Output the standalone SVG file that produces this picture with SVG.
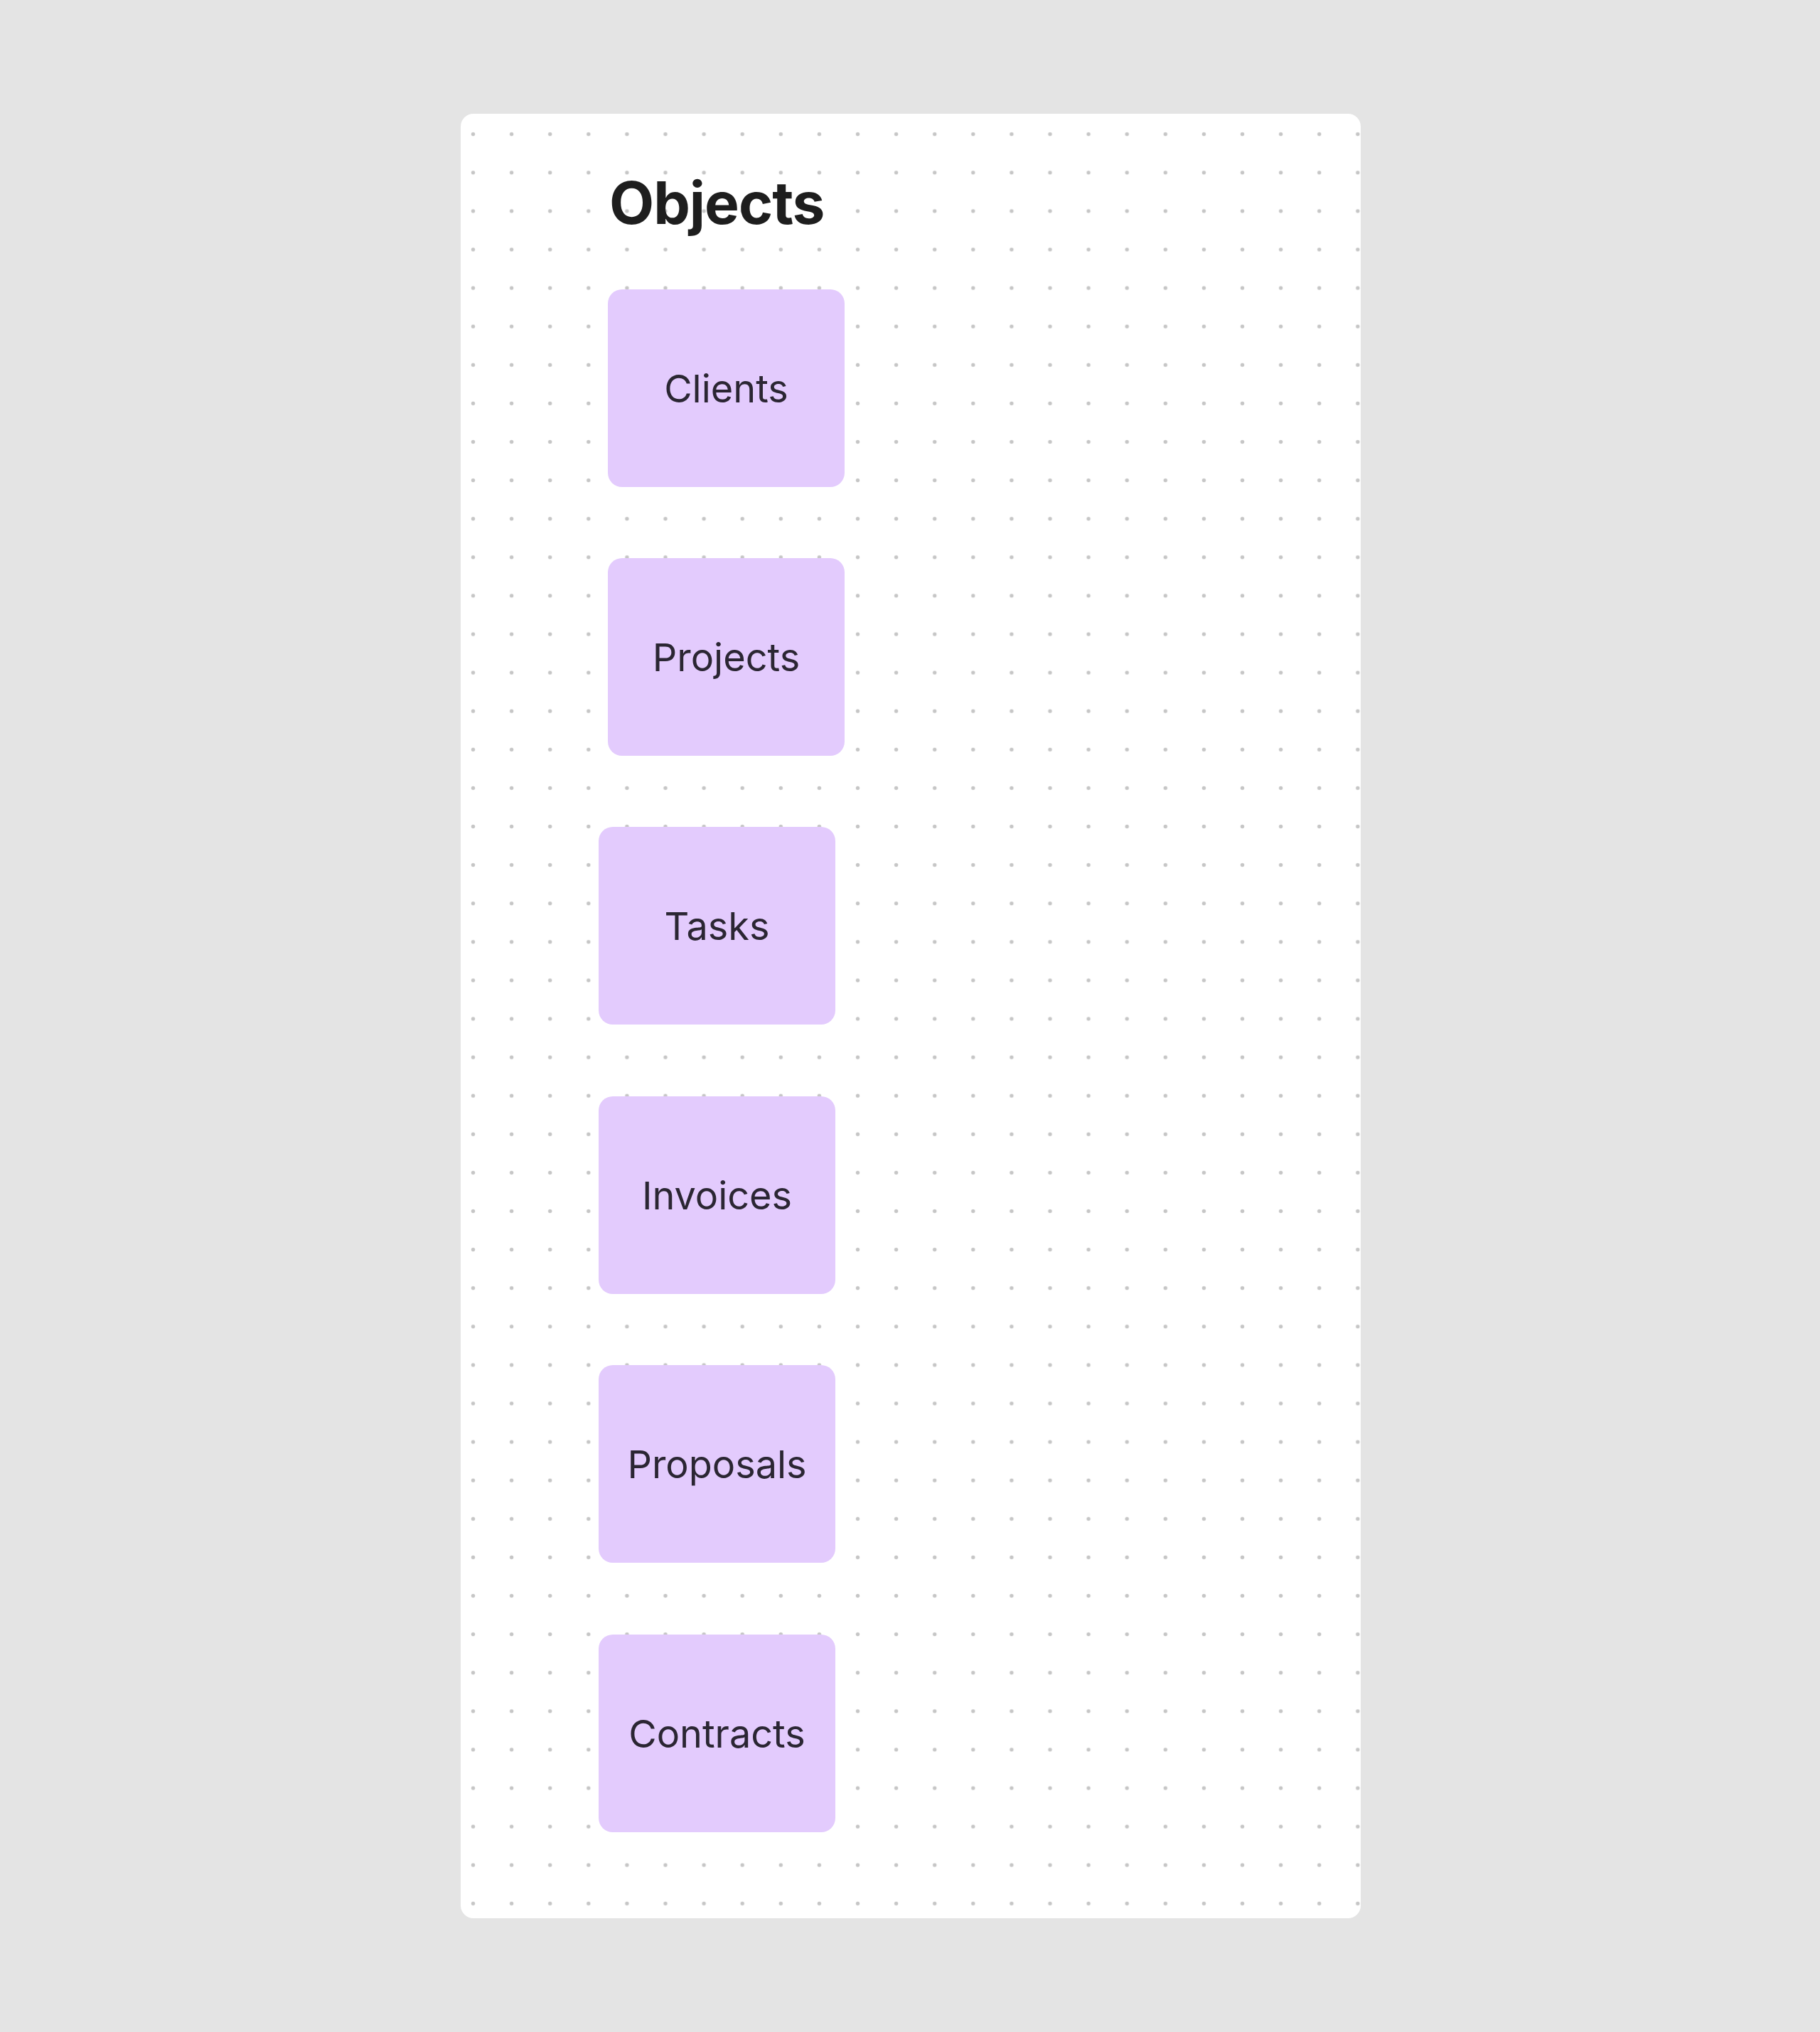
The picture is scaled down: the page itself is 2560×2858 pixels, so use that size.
<svg xmlns="http://www.w3.org/2000/svg" width="2560" height="2858" viewBox="0 0 2560 2858">
  <style>
    .node rect { fill: #e3cbfd; }
    .node text { font-family: Inter, "Noto Sans", "Liberation Sans", sans-serif; font-size: 54px; font-weight: 400; fill: #2b2633; text-anchor: middle; }
    .title { font-family: Inter, "Noto Sans", "Liberation Sans", sans-serif; font-size: 82px; font-weight: 700; fill: #1e1e1e; letter-spacing: -1px; }
  </style>
  <defs>
    <pattern id="dots" patternUnits="userSpaceOnUse" x="638.45" y="161.65" width="54.1" height="54.1">
      <circle cx="27.05" cy="27.05" r="2.7" fill="#c6c6c6"/>
    </pattern>
  </defs>
  <rect x="0" y="0" width="2560" height="2858" fill="#e4e4e4"/>
  <g id="board">
    <rect x="648" y="160" width="1266" height="2538" rx="18" fill="#ffffff"/>
    <rect x="648" y="160" width="1266" height="2538" rx="18" fill="url(#dots)"/>
    <text class="title" x="857" y="315">Objects</text>
  </g>
  <g id="connectors"></g>
  <g id="node-clients" class="node">
    <rect x="855" y="407" width="333" height="278" rx="20"/>
    <text x="1021.5" y="565.6">Clients</text>
  </g>
  <g id="node-projects" class="node">
    <rect x="855" y="785" width="333" height="278" rx="20"/>
    <text x="1021.5" y="943.6">Projects</text>
  </g>
  <g id="node-tasks" class="node">
    <rect x="842" y="1163" width="333" height="278" rx="20"/>
    <text x="1008.5" y="1321.6">Tasks</text>
  </g>
  <g id="node-invoices" class="node">
    <rect x="842" y="1542" width="333" height="278" rx="20"/>
    <text x="1008.5" y="1700.6">Invoices</text>
  </g>
  <g id="node-proposals" class="node">
    <rect x="842" y="1920" width="333" height="278" rx="20"/>
    <text x="1008.5" y="2078.6">Proposals</text>
  </g>
  <g id="node-contracts" class="node">
    <rect x="842" y="2299" width="333" height="278" rx="20"/>
    <text x="1008.5" y="2457.6">Contracts</text>
  </g>
</svg>
